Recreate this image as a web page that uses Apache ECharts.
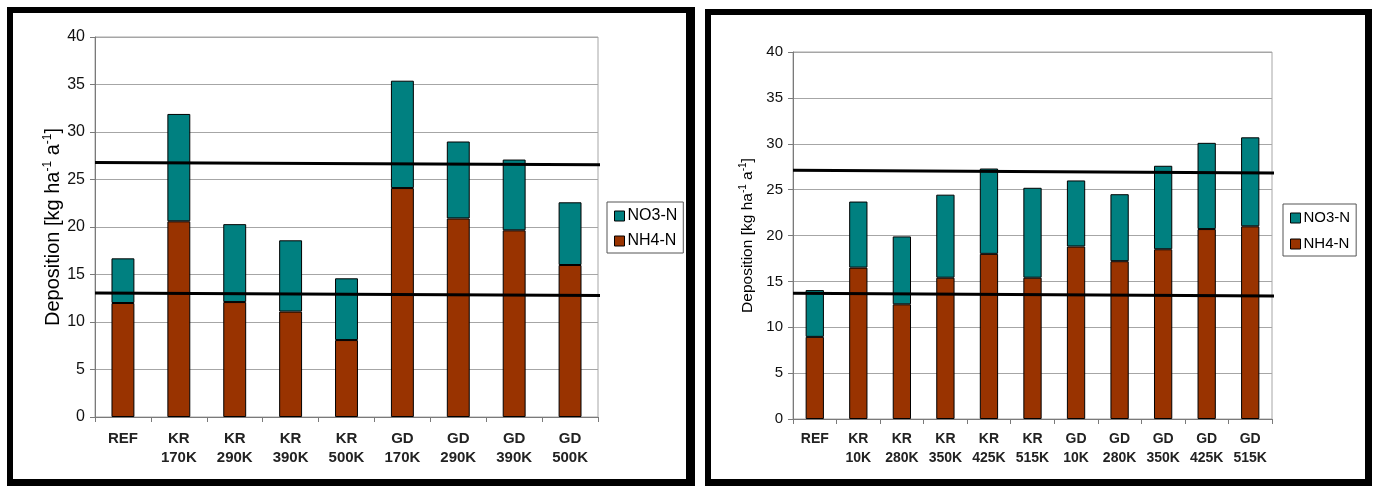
<!DOCTYPE html>
<html>
<head>
<meta charset="utf-8">
<script src="https://cdn.jsdelivr.net/npm/echarts@6/dist/echarts.min.js"></script>
<style>
html,body{margin:0;padding:0;background:#fff;}
#chart{width:1374px;height:486px;}
</style>
</head>
<body>
<div id="chart"></div>
<script>
// ---- data ----
const leftCategories = ['REF', 'KR\n170K', 'KR\n290K', 'KR\n390K', 'KR\n500K', 'GD\n170K', 'GD\n290K', 'GD\n390K', 'GD\n500K'];
const leftNH4 = [12.0, 20.6, 12.1, 11.1, 8.1, 24.1, 20.9, 19.65, 16.0];
const leftNO3 = [4.7, 11.3, 8.2, 7.5, 6.5, 11.3, 8.1, 7.45, 6.6];
const leftUpperLine = [26.8, 26.55];
const leftLowerLine = [13.05, 12.8];

const rightCategories = ['REF', 'KR\n10K', 'KR\n280K', 'KR\n350K', 'KR\n425K', 'KR\n515K', 'GD\n10K', 'GD\n280K', 'GD\n350K', 'GD\n425K', 'GD\n515K'];
const rightNH4 = [8.95, 16.5, 12.5, 15.4, 18.0, 15.4, 18.8, 17.2, 18.5, 20.7, 21.0];
const rightNO3 = [5.1, 7.2, 7.4, 9.05, 9.3, 9.8, 7.2, 7.3, 9.1, 9.4, 9.7];
const rightUpperLine = [27.1, 26.8];
const rightLowerLine = [13.7, 13.4];

const seriesNames = ['NO3-N', 'NH4-N'];
const yMin = 0, yMax = 40, yStep = 5;

// ---- styles ----
const TEAL = '#008080', BROWN = '#993300';
const FONT = 'Liberation Sans, Arial, sans-serif';

function yAxis(grid, labelSize, nameSize, nameGap, supSize) {
  return {
    type: 'value', gridIndex: grid, min: yMin, max: yMax, interval: yStep,
    name: 'Deposition [kg ha{s|-1} a{s|-1}]',
    nameLocation: 'middle', nameGap: nameGap,
    nameTextStyle: {
      fontFamily: FONT, fontSize: nameSize, color: '#000',
      rich: { s: { fontFamily: FONT, fontSize: supSize, color: '#000', verticalAlign: 'top', lineHeight: nameSize + 2 } }
    },
    axisLine: { show: true, onZero: false, lineStyle: { color: '#7a7a7a', width: 1 } },
    axisTick: { show: true, length: 5, lineStyle: { color: '#7a7a7a' } },
    axisLabel: { fontFamily: FONT, fontSize: labelSize, color: '#111', margin: 10 },
    splitLine: { lineStyle: { color: '#a6a6a6', width: 1 } }
  };
}
function xAxis(grid, data, labelSize, margin) {
  return {
    type: 'category', gridIndex: grid, data: data,
    axisLine: { show: true, onZero: false, lineStyle: { color: '#7a7a7a', width: 1 } },
    axisTick: { show: true, length: 5, interval: 0, lineStyle: { color: '#7a7a7a' } },
    axisLabel: { interval: 0, fontFamily: FONT, fontSize: labelSize, fontWeight: 'bold', color: '#222', lineHeight: 19, margin: margin }
  };
}
function hiddenX(grid, n) {
  return { type: 'value', gridIndex: grid, min: -0.5, max: n - 0.5, show: false,
           axisLine: { show: false, onZero: false }, splitLine: { show: false } };
}
function legend(left, top, fontSize, gap) {
  return {
    left: left, top: top, orient: 'vertical',
    data: seriesNames,
    itemWidth: 10, itemHeight: 10, itemGap: gap,
    padding: [6, 6, 4, 7],
    borderColor: '#555', borderWidth: 1,
    backgroundColor: '#fff',
    icon: 'rect',
    itemStyle: { borderColor: '#000', borderWidth: 1 },
    textStyle: { fontFamily: FONT, fontSize: fontSize, color: '#000', lineHeight: 16, padding: [0, 0, 0, -2] }
  };
}
function bar(name, data, xi, yi, stack, color, width) {
  return {
    name: name, type: 'bar', stack: stack, data: data,
    xAxisIndex: xi, yAxisIndex: yi, barWidth: width,
    itemStyle: { color: color, borderColor: '#000', borderWidth: 1 },
    emphasis: { disabled: true }, z: 2
  };
}
function refLine(vals, xi, yi, n) {
  return {
    type: 'line', xAxisIndex: xi, yAxisIndex: yi, clip: false,
    data: [[-0.5, vals[0]], [n - 0.5 + 0.05, vals[1]]],
    symbol: 'none', silent: true, z: 5,
    lineStyle: { color: '#000', width: 3 }
  };
}

function frame(x, y, w, h, tl, tt, tr, tb) {
  return [
    { type: 'rect', shape: { x: x, y: y, width: w, height: tt }, style: { fill: '#000' } },
    { type: 'rect', shape: { x: x, y: y, width: tl, height: h }, style: { fill: '#000' } },
    { type: 'rect', shape: { x: x + w - tr, y: y, width: tr, height: h }, style: { fill: '#000' } },
    { type: 'rect', shape: { x: x, y: y + h - tb, width: w, height: tb }, style: { fill: '#000' } }
  ];
}

const nL = leftCategories.length, nR = rightCategories.length;

const option = {
  animation: false,
  backgroundColor: '#fff',
  grid: [
    { left: 95, top: 37, width: 503, height: 380, show: true, borderColor: '#a6a6a6', borderWidth: 1, backgroundColor: 'transparent' },
    { left: 793, top: 52, width: 479, height: 367, show: true, borderColor: '#a6a6a6', borderWidth: 1, backgroundColor: 'transparent' }
  ],
  xAxis: [
    xAxis(0, leftCategories, 15, 12),
    xAxis(1, rightCategories, 14, 11),
    hiddenX(0, nL),
    hiddenX(1, nR)
  ],
  yAxis: [
    yAxis(0, 16, 20, 31, 12),
    yAxis(1, 15, 15.5, 37, 10)
  ],
  legend: [
    legend(607, 202, 16, 9),
    legend(1283, 204, 15, 10)
  ],
  series: [
    bar('NH4-N', leftNH4, 0, 0, 'L', BROWN, '41%'),
    bar('NO3-N', leftNO3, 0, 0, 'L', TEAL, '41%'),
    bar('NH4-N', rightNH4, 1, 1, 'R', BROWN, '42%'),
    bar('NO3-N', rightNO3, 1, 1, 'R', TEAL, '42%'),
    refLine(leftUpperLine, 2, 0, nL),
    refLine(leftLowerLine, 2, 0, nL),
    refLine(rightUpperLine, 3, 1, nR),
    refLine(rightLowerLine, 3, 1, nR)
  ],
  graphic: [].concat(
    frame(7, 7, 688, 479, 6, 6, 9, 7),
    frame(705, 9, 667, 477, 6, 6, 7, 7)
  )
};

const chart = echarts.init(document.getElementById('chart'), null, { renderer: 'canvas' });
chart.setOption(option);
</script>
</body>
</html>
